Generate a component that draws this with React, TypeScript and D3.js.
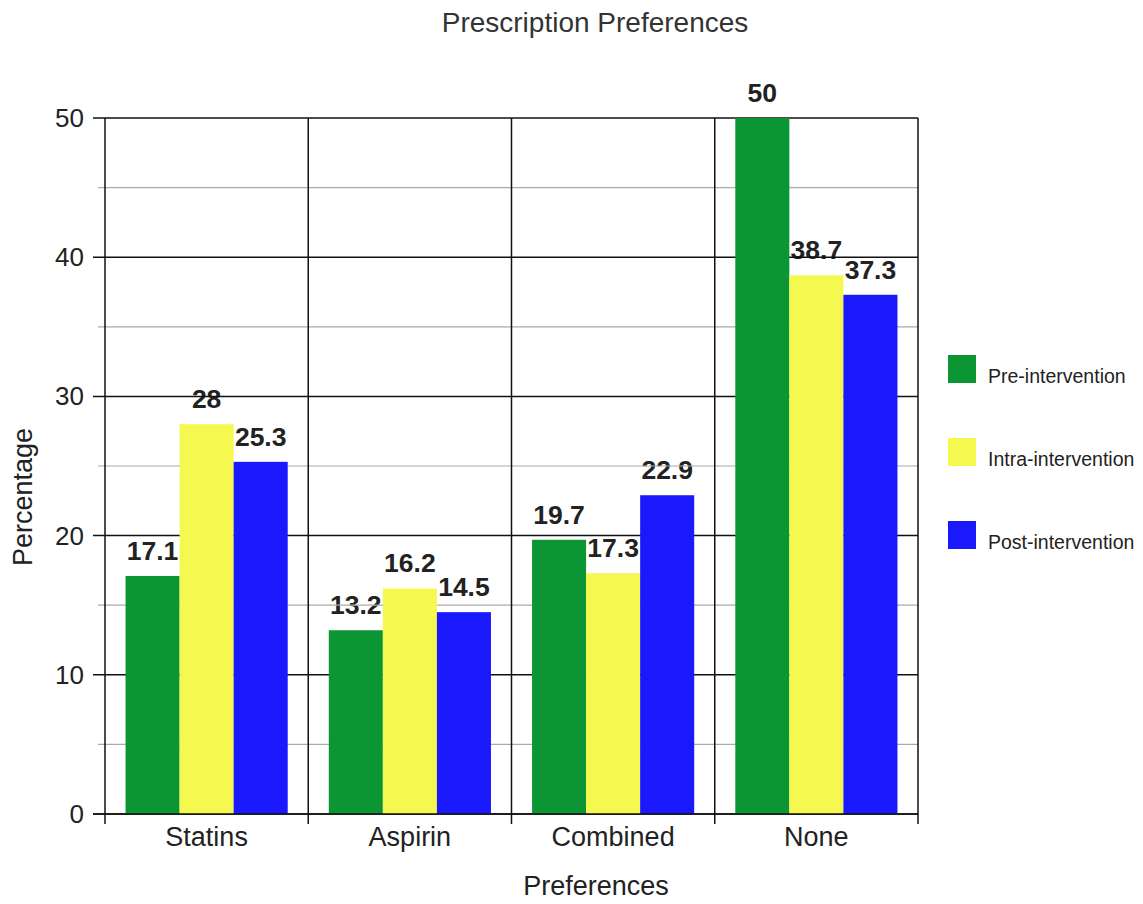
import React from "react";
import * as d3 from "d3";

const categories = ["Statins", "Aspirin", "Combined", "None"];
const seriesNames = ["Pre-intervention", "Intra-intervention", "Post-intervention"];
const seriesColors = ["#0c9633", "#f5f84e", "#1919fb"];
// values per category, in series order
const preValues = [17.1, 13.2, 19.7, 50];
const intraValues = [28, 16.2, 17.3, 38.7];
const postValues = [25.3, 14.5, 22.9, 37.3];
const majorTicks = [0, 10, 20, 30, 40, 50];
const minorTicks = [5, 15, 25, 35, 45];

const W = 1143;
const H = 904;
const margin = { left: 105, right: 225, top: 118, bottom: 90 };
const font = "Arial, 'Liberation Sans', Helvetica, sans-serif";
const textColor = "#222";

export default function App() {
  const values = [preValues, intraValues, postValues];
  const x0 = d3
    .scaleBand<string>()
    .domain(categories)
    .range([margin.left, W - margin.right])
    .paddingInner(0)
    .paddingOuter(0);
  const x1 = d3
    .scaleBand<string>()
    .domain(seriesNames)
    .range([0, x0.bandwidth()])
    .paddingInner(0)
    .paddingOuter(0.38);
  const y = d3.scaleLinear().domain([0, 50]).range([H - margin.bottom, margin.top]);

  const left = margin.left;
  const right = W - margin.right;
  const bottom = y(0);
  const top = y(50);

  return (
    <svg width={W} height={H} style={{ position: "absolute", left: 0, top: 0, background: "#fff" }} fontFamily={font}>
      <rect x={0} y={0} width={W} height={H} fill="#fff" />
      <text x={595} y={32} textAnchor="middle" fontSize={28} fill="#333">
        Prescription Preferences
      </text>

      {/* value labels (drawn under the grid, as in the original) */}
      {categories.map((c, ci) =>
        seriesNames.map((s, si) => {
          const v = values[si][ci];
          const cx = x0(c)! + x1(s)! + x1.bandwidth() / 2;
          return (
            <text key={"l" + c + s} x={cx} y={y(v) - 16} textAnchor="middle" fontSize={26.5} fontWeight="bold" fill={textColor}>
              {v}
            </text>
          );
        })
      )}

      {/* minor gridlines */}
      {minorTicks.map((t) => (
        <line key={"m" + t} x1={left - 7} x2={right} y1={y(t)} y2={y(t)} stroke="#aaa" strokeWidth={1.2} />
      ))}
      {/* major gridlines */}
      {majorTicks.map((t) => (
        <line key={"M" + t} x1={left - 12} x2={right} y1={y(t)} y2={y(t)} stroke="#111" strokeWidth={1.5} />
      ))}
      {/* category separators */}
      {categories.map((c) => (
        <line key={"v" + c} x1={x0(c)!} x2={x0(c)!} y1={top} y2={bottom + 10} stroke="#111" strokeWidth={1.5} />
      ))}
      <line x1={right} x2={right} y1={top} y2={bottom + 10} stroke="#111" strokeWidth={1.5} />

      {/* bars */}
      {categories.map((c, ci) =>
        seriesNames.map((s, si) => {
          const v = values[si][ci];
          const bx = x0(c)! + x1(s)!;
          return (
            <rect
              key={c + s}
              x={bx}
              y={y(v)}
              width={x1.bandwidth()}
              height={bottom - y(v)}
              fill={seriesColors[si]}
            />
          );
        })
      )}
      <line x1={left - 12} x2={right} y1={bottom} y2={bottom} stroke="#111" strokeWidth={1.5} />

      {/* y tick labels */}
      {majorTicks.map((t) => (
        <text key={"yt" + t} x={left - 21} y={y(t) + 9} textAnchor="end" fontSize={26} fill={textColor}>
          {t}
        </text>
      ))}
      {/* x tick labels */}
      {categories.map((c) => (
        <text key={"xt" + c} x={x0(c)! + x0.bandwidth() / 2} y={bottom + 32} textAnchor="middle" fontSize={27} fill={textColor}>
          {c}
        </text>
      ))}

      <text x={596} y={895} textAnchor="middle" fontSize={27} fill={textColor}>
        Preferences
      </text>
      <text transform={`translate(32, 497) rotate(-90)`} textAnchor="middle" fontSize={27} fill={textColor}>
        Percentage
      </text>

      {/* legend */}
      {seriesNames.map((s, i) => (
        <g key={"lg" + s} transform={`translate(948, ${355 + i * 83})`}>
          <rect width={28} height={28} fill={seriesColors[i]} />
          <text x={40} y={28} fontSize={19.5} fill={textColor}>
            {s}
          </text>
        </g>
      ))}
    </svg>
  );
}
